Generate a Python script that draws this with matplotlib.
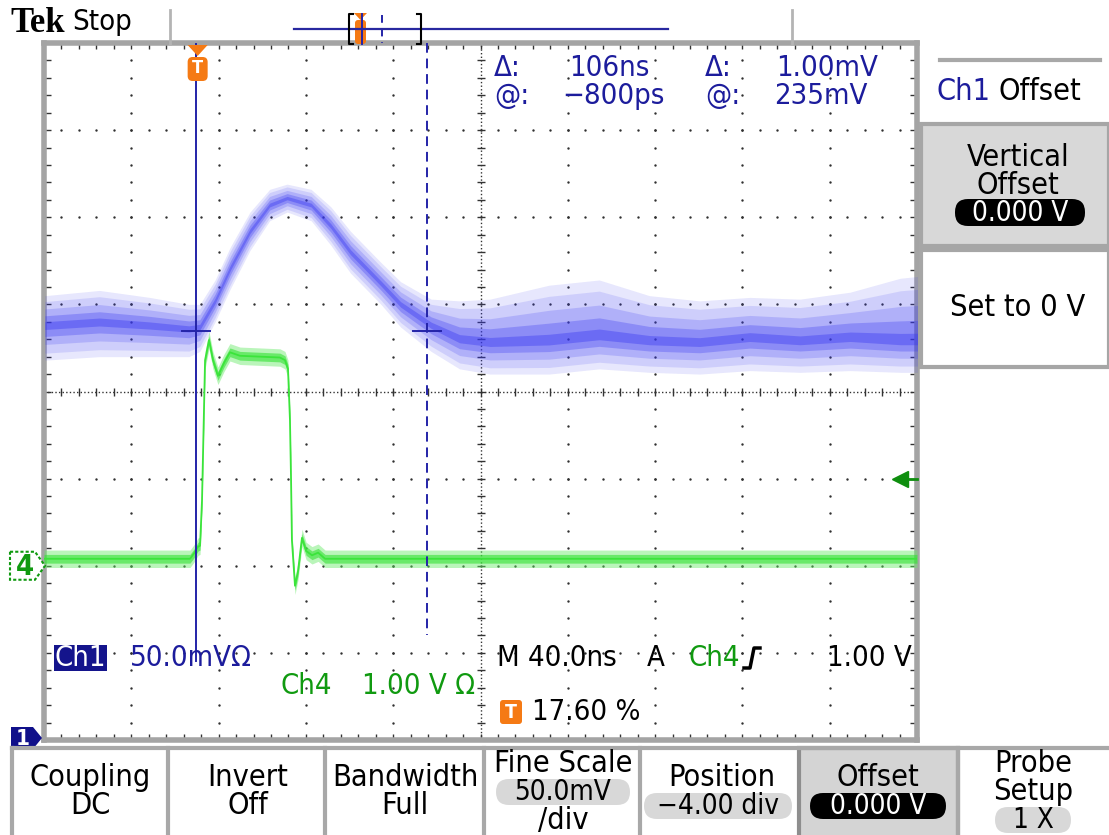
import numpy as np
import matplotlib
matplotlib.use("Agg")
import matplotlib.pyplot as plt
from matplotlib.patches import Rectangle, FancyBboxPatch, Polygon

W, H = 1109, 835

# scope settings
time_per_div = 40.0      # ns/div
trig_pos = 17.60         # % of record
ch1_scale = 50.0         # mV/div
ch1_pos = -4.0           # div
ch4_scale = 1.00         # V/div
ch4_pos = -2.0           # div
trig_level = 1.00        # V
cursor_t = [-0.8, 105.2]  # ns
cursor_v = 235.0         # mV

# Ch1 persistence band: time (ns), centre (mV), spread above / below (mV)
ch1_t = [-70, -45, -22, -4, 1, 8, 15, 24, 33, 41, 52, 61, 70, 84, 93, 107,
         120, 134, 161, 184, 207, 230, 253, 276, 299, 322, 330]
ch1_mid = [238, 240, 238, 236, 237, 252, 271, 292, 307, 311, 307, 295, 280, 262,
           250, 238, 230, 228, 229, 232, 229, 228, 231, 229, 231, 229, 229]
ch1_up = [17, 18, 16, 14, 13, 12, 12, 11, 9, 8, 9, 11, 12, 12, 13, 15,
          22, 25, 32, 32, 26, 24, 23, 24, 26, 36, 37]
ch1_dn = [20, 20, 18, 16, 14, 12, 12, 11, 9, 8, 9, 11, 12, 12, 13, 15,
          17, 18, 19, 19, 18, 18, 19, 18, 19, 18, 18]

# Ch4 trace: time (ns), volts
ch4_t = [-70.4, -3.5, -1.7, 0.2, 1.1, 2.0, 3.4, 5.2, 7.0, 9.3, 12.1, 14.8, 19.4,
         28.6, 37.7, 40.0, 41.4, 42.3, 42.8, 43.2, 44.6, 46.0, 47.8, 49.7, 52.4,
         55.2, 58.4, 329.6]
ch4_v = [0.08, 0.08, 0.14, 0.22, 0.23, 0.75, 2.36, 2.59, 2.36, 2.18, 2.33, 2.45,
         2.41, 2.40, 2.39, 2.36, 2.26, 1.67, 0.98, 0.29, -0.23, -0.06, 0.32, 0.17,
         0.12, 0.15, 0.08, 0.08]

BLUE = "#1c1c9c"
GREEN = "#109a10"
ORANGE = "#f57a14"
plt.rcParams["font.family"] = ["DejaVu Sans"]
plt.rcParams["font.stretch"] = "condensed"


def tx(t):
    return np.asarray(t, float) / time_per_div - 5 + trig_pos / 10


def y1(mv):
    return np.asarray(mv, float) / ch1_scale + ch1_pos


def y4(v):
    return np.asarray(v, float) / ch4_scale + ch4_pos


# graticule placement in pixels
GL, GR, GT, GB = 44, 917, 43, 740


def px_y(div):
    return GT + (4 - div) * (GB - GT) / 8


def px_x(div):
    return GL + (div + 5) * (GR - GL) / 10


fig = plt.figure(figsize=(W / 100, H / 100), dpi=100)
fig.patch.set_facecolor("white")
ax = fig.add_axes([GL / W, (H - GB) / H, (GR - GL) / W, (GB - GT) / H])
ax.set_xlim(-5, 5)
ax.set_ylim(-4, 4)
ax.set_xticks([])
ax.set_yticks([])
for s in ax.spines.values():
    s.set_color("#a4a4a4")
    s.set_linewidth(4)

# grid dots
xm = np.linspace(-5, 5, 51)
ym = np.linspace(-4, 4, 41)
dot = dict(s=3, color="#303030", lw=0, zorder=1)
for xi in range(-4, 5):
    if xi != 0:
        ax.scatter(np.full_like(ym, xi), ym, **dot)
for yi in range(-3, 4):
    if yi != 0:
        ax.scatter(xm, np.full_like(xm, yi), **dot)
ax.plot([-5, 5], [0, 0], ls=(0, (1, 1.6)), color="#333333", lw=1, zorder=1)
ax.plot([0, 0], [-4, 4], ls=(0, (1, 1.6)), color="#333333", lw=1, zorder=1)
ax.plot(xm, np.zeros_like(xm), ls="none", marker="|", ms=6, mew=1, color="#333333", zorder=1)
ax.plot(np.zeros_like(ym), ym, ls="none", marker="_", ms=6, mew=1, color="#333333", zorder=1)
# edge ticks
ax.plot(xm, np.full_like(xm, -3.96), ls="none", marker="|", ms=4, color="#333333")
ax.plot(xm, np.full_like(xm, 3.96), ls="none", marker="|", ms=4, color="#333333")
ax.plot(np.full_like(ym, -4.95), ym, ls="none", marker="_", ms=4, color="#333333")
ax.plot(np.full_like(ym, 4.95), ym, ls="none", marker="_", ms=4, color="#333333")

# Ch1 persistence band
x1 = tx(ch1_t)
mid = np.asarray(ch1_mid, float)
up = np.asarray(ch1_up, float)
dn = np.asarray(ch1_dn, float)
for k, a in [(1.0, 0.12), (0.8, 0.14), (0.55, 0.2), (0.32, 0.3), (0.12, 0.4)]:
    ax.fill_between(x1, y1(mid + k * up), y1(mid - k * dn), color="#3a3af2",
                    alpha=a, lw=0, zorder=3)

# Ch4 trace
x4 = tx(ch4_t)
v4 = np.asarray(ch4_v, float)
ax.fill_between(x4, y4(v4 + 0.1), y4(v4 - 0.1), color="#66ea66", alpha=0.45, lw=0, zorder=3)
ax.fill_between(x4, y4(v4 + 0.05), y4(v4 - 0.05), color="#33e233", alpha=0.6, lw=0, zorder=3)
ax.plot(x4, y4(v4), color="#3be43b", lw=1.3, zorder=4)

# cursors
cx = tx(cursor_t)
ax.plot([cx[0], cx[0]], [4, -3.09], color="#2424a8", lw=1.4, zorder=5)
ax.plot([cx[1], cx[1]], [4, -2.80], color="#2424a8", lw=1.4, ls=(0, (5, 3)), zorder=5)
for c in cx:
    ax.plot([c - 0.16, c + 0.16], [y1(cursor_v)] * 2, color="#2424a8", lw=1.4, zorder=5)

# trigger level arrow (right edge)
ax.plot([4.8, 5.0], [y4(trig_level)] * 2, color="#0e8e0e", lw=2, clip_on=False, zorder=6)
ax.plot([4.8], [y4(trig_level)], marker="<", ms=11, color="#0e8e0e", zorder=6)

# ---------- UI overlay in pixel coordinates ----------
ui = fig.add_axes([0, 0, 1, 1], facecolor="none")
ui.set_xlim(0, W)
ui.set_ylim(H, 0)
ui.axis("off")

fs = 21
fb = 22

# top bar
ui.text(10, 23, "Tek", family="Liberation Serif", weight="bold", size=25, va="center")
ui.text(72, 22, "Stop", size=fs, va="center")
for xs in (170, 792):
    ui.plot([xs, xs], [10, 44], color="#b4b4b4", lw=2)
ui.plot([294, 668], [29, 29], color="#2828a0", lw=1.6)
ui.plot([353, 349, 349, 353], [14, 14, 44, 44], color="black", lw=1.5)
ui.plot([417, 421, 421, 417], [14, 14, 44, 44], color="black", lw=1.5)
trig_px = px_x(tx(0.0))
ui.add_patch(FancyBboxPatch((355, 20), 11, 24, boxstyle="round,pad=0,rounding_size=3",
                            fc=ORANGE, ec="none"))
ui.add_patch(Polygon([(354, 13), (367, 13), (360.5, 20)], fc=ORANGE, ec="none"))
ui.plot([362, 362], [14, 44], color="#2424a8", lw=1.4)
ui.plot([382, 382], [15, 43], color="#2424a8", lw=1.4, ls=(0, (4, 3)))

# trigger position marker on graticule
ui.add_patch(Polygon([(trig_px - 10, 45), (trig_px + 10, 45), (trig_px, 56)],
                     fc=ORANGE, ec="none", zorder=6))
ui.add_patch(FancyBboxPatch((trig_px - 10, 57), 20, 24, boxstyle="round,pad=0,rounding_size=5",
                            fc=ORANGE, ec="none", zorder=6))
ui.text(trig_px, 68, "T", color="white", size=13, weight="bold", ha="center", va="center", zorder=7)

# ground markers
g4 = px_y(ch4_pos)
ui.add_patch(Polygon([(10, g4 - 14), (35, g4 - 14), (45, g4), (35, g4 + 14), (10, g4 + 14)],
                     fc="white", ec=GREEN, lw=1.5, ls=(0, (1.5, 1))))
ui.text(25, g4 + 1, "4", color=GREEN, size=21, weight="bold", ha="center", va="center")
g1 = px_y(ch1_pos) - 2
ui.add_patch(Polygon([(11, g1 - 11), (33, g1 - 11), (42, g1), (33, g1 + 11), (11, g1 + 11)],
                     fc="#10108a", ec="none"))
ui.text(23, g1 + 1, "1", color="white", size=16, weight="bold", ha="center", va="center")

# cursor readout
for yy, a, b, bx, c, d, dx in [(68, "Δ:", "106ns", 650, "Δ:", "1.00mV", 878),
                               (96, "@:", "−800ps", 665, "@:", "235mV", 868)]:
    ui.text(494, yy, a, color=BLUE, size=fs, va="center")
    ui.text(bx, yy, b, color=BLUE, size=fs, va="center", ha="right")
    ui.text(705, yy, c, color=BLUE, size=fs, va="center")
    ui.text(dx, yy, d, color=BLUE, size=fs, va="center", ha="right")

# channel readout
ui.add_patch(Rectangle((54, 645), 53, 26, fc="#14148c", ec="none"))
ui.text(80, 658, "Ch1", color="white", size=fs, ha="center", va="center")
ui.text(130, 658, "50.0mVΩ", color=BLUE, size=fs, va="center")
ui.text(280, 686, "Ch4", color=GREEN, size=fs, va="center")
ui.text(362, 686, "1.00 V Ω", color=GREEN, size=fs, va="center")
ui.text(497, 658, "M 40.0ns", color="black", size=fs, va="center")
ui.text(647, 658, "A", color="black", size=fs, va="center")
ui.text(688, 658, "Ch4", color=GREEN, size=fs, va="center")
ui.plot([744, 750, 754, 760], [668, 668, 648, 648], color="black", lw=2.5)
ui.text(912, 658, "1.00 V", color="black", size=fs, va="center", ha="right")
ui.add_patch(FancyBboxPatch((500, 700), 22, 24, boxstyle="round,pad=0,rounding_size=3",
                            fc=ORANGE, ec="none"))
ui.text(511, 712, "T", color="white", size=14, weight="bold", ha="center", va="center")
ui.text(532, 712, "17.60 %", color="black", size=fs, va="center")

# right side menu
ui.plot([940, 1100], [60, 60], color="#a8a8a8", lw=3)
ui.text(990, 92, "Ch1", color=BLUE, size=fb, va="center", ha="right")
ui.text(998, 92, "Offset", color="black", size=fb, va="center")
ui.add_patch(Rectangle((921, 124), 188, 122, fc="#d8d8d8", ec="#a6a6a6", lw=3))
ui.text(1018, 158, "Vertical", size=fb, ha="center", va="center")
ui.text(1018, 185, "Offset", size=fb, ha="center", va="center")
ui.add_patch(FancyBboxPatch((955, 199), 130, 27, boxstyle="round,pad=0,rounding_size=13",
                            fc="black", ec="none"))
ui.text(1020, 213, "0.000 V", color="white", size=20, ha="center", va="center")
ui.add_patch(Rectangle((921, 250), 188, 117, fc="white", ec="#a6a6a6", lw=3))
ui.text(1018, 308, "Set to 0 V", size=fb, ha="center", va="center")

# bottom menu
ui.plot([12, W], [748, 748], color="#a8a8a8", lw=3)
ui.add_patch(Rectangle((799, 748), 159, 90, fc="#d4d4d4", ec="#8e8e8e", lw=3))
for xs in (12, 168, 325, 484, 640, 958):
    ui.plot([xs, xs], [748, 835], color="#a8a8a8", lw=3)


def pill(cx, cy, w, txt, dark=False):
    ui.add_patch(FancyBboxPatch((cx - w / 2, cy - 13), w, 26,
                                boxstyle="round,pad=0,rounding_size=13",
                                fc="black" if dark else "#d8d8d8", ec="none"))
    ui.text(cx, cy, txt, color="white" if dark else "black", size=20, ha="center", va="center")


ui.text(90, 778, "Coupling", size=fb, ha="center", va="center")
ui.text(90, 806, "DC", size=fb, ha="center", va="center")
ui.text(248, 778, "Invert", size=fb, ha="center", va="center")
ui.text(248, 806, "Off", size=fb, ha="center", va="center")
ui.text(405, 778, "Bandwidth", size=fb, ha="center", va="center")
ui.text(405, 806, "Full", size=fb, ha="center", va="center")
ui.text(563, 764, "Fine Scale", size=fb, ha="center", va="center")
pill(563, 792, 134, "50.0mV")
ui.text(563, 820, "/div", size=fb, ha="center", va="center")
ui.text(722, 778, "Position", size=fb, ha="center", va="center")
pill(718, 806, 148, "−4.00 div")
ui.text(878, 778, "Offset", size=fb, ha="center", va="center")
pill(878, 806, 136, "0.000 V", dark=True)
ui.text(1033, 764, "Probe", size=fb, ha="center", va="center")
ui.text(1033, 792, "Setup", size=fb, ha="center", va="center")
pill(1033, 820, 76, "1 X")

fig.savefig("out.png", dpi=100, facecolor="white")
